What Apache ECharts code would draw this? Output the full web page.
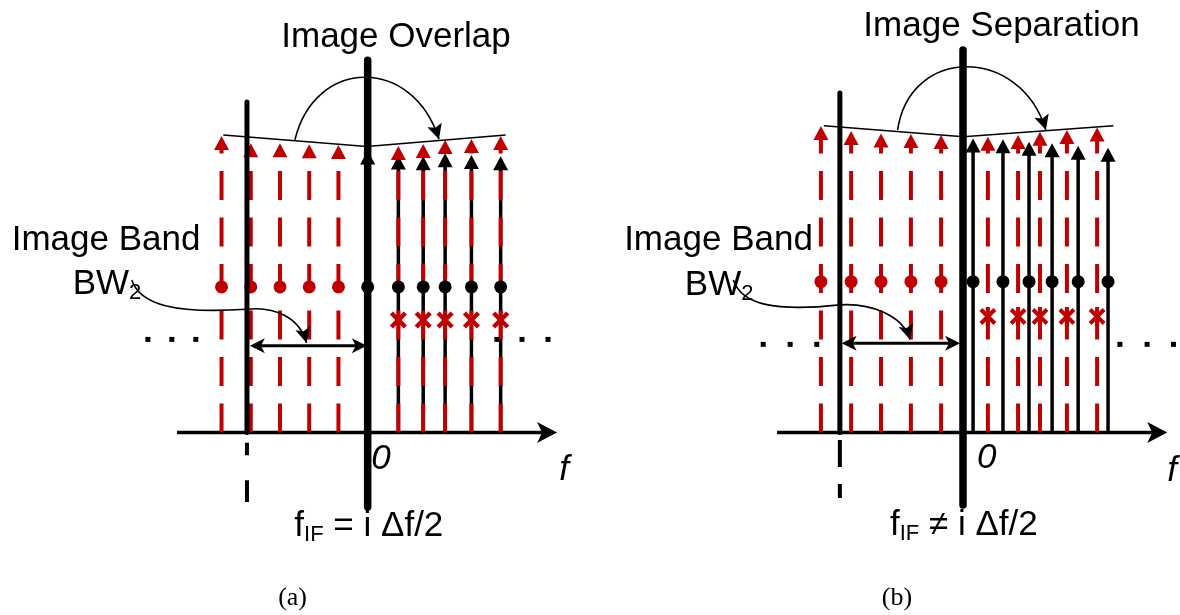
<!DOCTYPE html>
<html>
<head>
<meta charset="utf-8">
<title>Image tones for f_IF = i Δf/2 and f_IF ≠ i Δf/2</title>
<script src="https://cdn.jsdelivr.net/npm/echarts@6/dist/echarts.min.js"></script>
<style>
  html, body { margin: 0; padding: 0; background: #ffffff; }
  #chart { width: 1180px; height: 615px; }
</style>
</head>
<body>
<div id="chart"></div>
<script>
// Frequency positions are in units of the tone spacing, amplitudes in arbitrary units.

// ---------- (a) f_IF = i·Δf/2 : folded image tones fall on the signal tones ----------
const aImageX    = [-5, -4, -3, -2, -1];
const aImageTop  = [10.22, 9.97, 9.97, 9.94, 9.91];
const aSignalX   = [0, 1.05, 1.9, 2.65, 3.55, 4.55];
const aSignalTop = [9.72, 9.55, 9.53, 9.63, 9.57, 9.53];
const aFoldX     = [1.05, 1.9, 2.65, 3.55, 4.55];
const aFoldTop   = [9.88, 9.95, 10.09, 10.12, 10.22];
const aDotLevel  = 5.02;
const aMarkLevel = 3.88;
const aEdge      = [-4.13, 11.4, -0.35, -2.4];      // x, top, dashed tail from, to
const aZeroLine  = [12.84, -2.57];                   // top, bottom
const aSpan      = [-4.03, -0.03, 2.99];             // from, to, level
const aEllipsisX = [-7.52, -6.7, -5.88, 4.42, 5.28, 6.17];
const aEllipsisY = 3.21;
const aFreqAxis  = [-6.52, 6.48];
const aEnvelope  = [[-4.94, 10.26], [-0.03, 9.86], [4.72, 10.26]];
const aArc       = [[-2.49, 10.09], [-1.80, 12.95], [1.55, 12.98], [2.44, 10.11]];
const aPointer   = [[-8.07, 5.26], [-7.79, 4.40], [-6.59, 4.09], [-4.14, 4.25],
                    [-3.17, 4.36], [-2.32, 3.95], [-2.09, 3.09]];
const aTexts = [
  [0.97, 13.62, 'Image Overlap', 'title'],
  [-8.95, 6.62, 'Image Band', 'label'],
  [-8.92, 5.12, '{m|BW}{s|2}', 'rich'],
  [0.04, -3.22, '{m|f}{s|IF}{m| = i Δf/2}', 'rich'],
  [0.455, -0.93, '0', 'italic'],
  [6.72, -1.31, 'f', 'italic'],
  [-2.57, -5.71, '(a)', 'caption']
];

// ---------- (b) f_IF ≠ i·Δf/2 : folded image tones fall between the signal tones ----------
const bImageX    = [-4.80, -3.78, -2.77, -1.76, -0.74];
const bImageTop  = [10.57, 10.40, 10.31, 10.29, 10.26];
const bSignalX   = [0.34, 1.35, 2.23, 3.01, 3.89, 4.90];
const bSignalTop = [10.14, 10.11, 10.03, 9.97, 9.89, 9.82];
const bFoldX     = [0.84, 1.86, 2.60, 3.51, 4.53];
const bFoldTop   = [10.20, 10.26, 10.37, 10.43, 10.52];
const bDotLevel  = 5.2;
const bMarkLevel = 4.0;
const bEdge      = [-4.16, 11.71, -0.26, -2.26];
const bZeroLine  = [13.19, -2.5];
const bSpan      = [-4.10, -0.10, 3.08];
const bEllipsisX = [-6.75, -5.84, -4.94, 5.30, 6.22, 7.11];
const bEllipsisY = 3.04;
const bFreqAxis  = [-6.28, 6.90];
const bEnvelope  = [[-4.70, 10.58], [0.01, 10.20], [5.08, 10.58]];
const bArc       = [[-2.21, 10.43], [-1.79, 13.34], [1.93, 13.34], [2.80, 10.43]];
const bPointer   = [[-7.76, 5.26], [-7.47, 4.40], [-6.35, 4.16], [-4.16, 4.40],
                    [-3.14, 4.47], [-2.03, 4.05], [-1.79, 3.21]];
const bTexts = [
  [1.30, 14.02, 'Image Separation', 'title'],
  [-8.26, 6.62, 'Image Band', 'label'],
  [-8.24, 5.08, '{m|BW}{s|2}', 'rich'],
  [0.03, -3.19, '{m|f}{s|IF}{m| ≠ i Δf/2}', 'rich'],
  [0.80, -0.89, '0', 'italic'],
  [7.06, -1.33, 'f', 'italic'],
  [-2.23, -5.71, '(b)', 'caption']
];

// ---------- drawing helpers ----------
const RED = '#c00000';
const INK = '#000000';
const SANS = '"Liberation Sans", Arial, Helvetica, sans-serif';
const SERIF = '"Liberation Serif", "DejaVu Serif", serif';
const RED_DASH = [29, 17.5];

const TEXT_STYLES = {
  title:   { fontSize: 35, fontFamily: SANS },
  label:   { fontSize: 35, fontFamily: SANS },
  italic:  { fontSize: 35, fontFamily: SANS, fontStyle: 'italic' },
  caption: { fontSize: 26, fontFamily: SERIF },
  rich: {
    fontSize: 35, fontFamily: SANS,
    rich: {
      m: { fontSize: 35, fontFamily: SANS, lineHeight: 40, fill: INK },
      s: { fontSize: 22, fontFamily: SANS, lineHeight: 19, verticalAlign: 'bottom', fill: INK }
    }
  }
};

function unitVec(from, to) {
  const dx = to[0] - from[0], dy = to[1] - from[1];
  const d = Math.hypot(dx, dy) || 1;
  return [dx / d, dy / d];
}
function pullBack(tip, from, dist) {
  const u = unitVec(from, tip);
  return [tip[0] - u[0] * dist, tip[1] - u[1] * dist];
}
// notched arrowhead whose point sits at `tip`, pointing away from `from`
function dart(tip, from, len, half, notch, color) {
  const u = unitVec(from, tip), n = [-u[1], u[0]];
  const bx = tip[0] - u[0] * len, by = tip[1] - u[1] * len;
  return {
    type: 'polygon',
    shape: { points: [
      [tip[0], tip[1]],
      [bx + n[0] * half, by + n[1] * half],
      [tip[0] - u[0] * (len - notch), tip[1] - u[1] * (len - notch)],
      [bx - n[0] * half, by - n[1] * half]
    ] },
    style: { fill: color }
  };
}
function seg(p, q, style) {
  return { type: 'line', shape: { x1: p[0], y1: p[1], x2: q[0], y2: q[1] }, style: style };
}
function bezierChain(px, style) {
  const out = [];
  for (let k = 0; k + 3 < px.length; k += 3) {
    out.push({ type: 'bezierCurve', shape: {
      x1: px[k][0], y1: px[k][1],
      cpx1: px[k + 1][0], cpy1: px[k + 1][1],
      cpx2: px[k + 2][0], cpy2: px[k + 2][1],
      x2: px[k + 3][0], y2: px[k + 3][1]
    }, style: style });
  }
  return out;
}

// generic custom series: every item is a list of data points, painted in pixel space
function shapeSeries(grid, z, items, paint) {
  return {
    type: 'custom', xAxisIndex: grid, yAxisIndex: grid, z: z, silent: true, clip: false,
    data: items.map(pts => pts[0]),
    renderItem: (params, api) => {
      const px = items[params.dataIndex].map(p => api.coord(p));
      return { type: 'group', children: paint(px, params.dataIndex) };
    }
  };
}

// vertical tones: stem from the frequency axis up to an arrowhead
function stemSeries(grid, z, xs, tops, color, width, dash) {
  return {
    type: 'custom', xAxisIndex: grid, yAxisIndex: grid, z: z, silent: true, clip: false,
    data: xs.map((x, i) => [x, tops[i]]),
    renderItem: (params, api) => {
      const x = api.value(0);
      const top = api.coord([x, api.value(1)]);
      const base = api.coord([x, 0]);
      const hw = 7.5, hh = 14;
      return { type: 'group', children: [
        seg(base, [top[0], top[1] + hh * 0.7],
            { stroke: color, lineWidth: width, lineDash: dash || null, fill: 'none' }),
        { type: 'polygon',
          shape: { points: [[top[0], top[1]], [top[0] - hw, top[1] + hh], [top[0] + hw, top[1] + hh]] },
          style: { fill: color } }
      ] };
    }
  };
}

function markSeries(grid, z, xs, level, asterisk) {
  return {
    type: 'custom', xAxisIndex: grid, yAxisIndex: grid, z: z, silent: true, clip: false,
    data: xs.map(x => [x, level]),
    renderItem: (params, api) => {
      const c = api.coord([api.value(0), api.value(1)]);
      const r = 7;
      const st = { stroke: RED, lineWidth: asterisk ? 4 : 4.5, fill: 'none' };
      const kids = [
        seg([c[0] - r, c[1] - r], [c[0] + r, c[1] + r], st),
        seg([c[0] + r, c[1] - r], [c[0] - r, c[1] + r], st)
      ];
      if (asterisk) kids.push(seg([c[0], c[1] - 9.5], [c[0], c[1] + 9.5], st));
      return { type: 'group', children: kids };
    }
  };
}

function dotSeries(grid, z, xs, level, color, size, symbol) {
  return {
    type: 'scatter', xAxisIndex: grid, yAxisIndex: grid, z: z, silent: true,
    symbol: symbol, symbolSize: size, itemStyle: { color: color, opacity: 1 },
    data: xs.map(x => [x, level])
  };
}

function textSeries(grid, items) {
  return {
    type: 'custom', xAxisIndex: grid, yAxisIndex: grid, z: 20, silent: true, clip: false,
    data: items.map(t => [t[0], t[1]]),
    renderItem: (params, api) => {
      const t = items[params.dataIndex];
      const p = api.coord([t[0], t[1]]);
      return { type: 'text', x: p[0], y: p[1],
        style: Object.assign({ text: t[2], align: 'center', verticalAlign: 'middle', fill: INK },
                             TEXT_STYLES[t[3]]) };
    }
  };
}

function panelSeries(g, P) {
  const thin = { stroke: INK, lineWidth: 1.6, fill: 'none' };
  return [
    // frequency axis with arrow
    shapeSeries(g, 1, [[[P.axis[0], 0], [P.axis[1], 0]]], px => [
      seg(px[0], pullBack(px[1], px[0], 12), { stroke: INK, lineWidth: 3.5 }),
      dart(px[1], px[0], 20, 10.5, 5, INK)
    ]),
    stemSeries(g, 3, P.imageX, P.imageTop, RED, 4, RED_DASH),
    stemSeries(g, 4, P.signalX, P.signalTop, INK, 3.5, null),
    stemSeries(g, 5, P.foldX, P.foldTop, RED, 4, RED_DASH),
    dotSeries(g, 6, P.imageX, P.dotLevel, RED, 13, 'circle'),
    dotSeries(g, 7, P.signalX, P.dotLevel, INK, 13, 'circle'),
    dotSeries(g, 6, P.ellipsisX, P.ellipsisY, INK, 5, 'rect'),
    // lower edge of the image band: solid above the axis, dashed below it
    shapeSeries(g, 8, [[[P.edge[0], 0], [P.edge[0], P.edge[1]]]], px => [
      seg(px[0], px[1], { stroke: INK, lineWidth: 5, lineCap: 'round' })
    ]),
    shapeSeries(g, 8, [[[P.edge[0], P.edge[2]], [P.edge[0], P.edge[3]]]], px => [
      seg(px[0], px[1], { stroke: INK, lineWidth: 4, lineDash: P.edgeDash })
    ]),
    // LO at zero frequency
    shapeSeries(g, 9, [[[0, P.zero[1]], [0, P.zero[0]]]], px => [
      seg(px[0], px[1], { stroke: INK, lineWidth: 7.5, lineCap: 'round' })
    ]),
    markSeries(g, 10, P.foldX, P.markLevel, P.asterisk),
    // band width double arrow
    shapeSeries(g, 11, [[[P.span[0], P.span[2]], [P.span[1], P.span[2]]]], px => [
      seg(pullBack(px[0], px[1], 8), pullBack(px[1], px[0], 8), { stroke: INK, lineWidth: 3 }),
      dart(px[0], px[1], 15, 7.5, 4, INK),
      dart(px[1], px[0], 15, 7.5, 4, INK)
    ]),
    // spectral envelope
    shapeSeries(g, 11, [P.envelope], px => [
      { type: 'polyline', shape: { points: px }, style: { stroke: INK, lineWidth: 1.5, fill: 'none' } }
    ]),
    // mirroring arc
    shapeSeries(g, 11, [P.arc], px => bezierChain(px, thin).concat([
      dart(px[3], px[2], 15, 7.5, 3, INK)
    ])),
    // label pointer
    shapeSeries(g, 11, [P.pointer], px => bezierChain(px, thin).concat([
      dart(px[6], px[5], 15, 7.5, 3, INK)
    ])),
    textSeries(g, P.texts)
  ];
}

const panelA = {
  imageX: aImageX, imageTop: aImageTop, signalX: aSignalX, signalTop: aSignalTop,
  foldX: aFoldX, foldTop: aFoldTop, dotLevel: aDotLevel, markLevel: aMarkLevel,
  edge: aEdge, edgeDash: [12.5, 25, 22, 40], zero: aZeroLine, span: aSpan,
  ellipsisX: aEllipsisX, ellipsisY: aEllipsisY, axis: aFreqAxis, envelope: aEnvelope,
  arc: aArc, pointer: aPointer, texts: aTexts, asterisk: false
};
const panelB = {
  imageX: bImageX, imageTop: bImageTop, signalX: bSignalX, signalTop: bSignalTop,
  foldX: bFoldX, foldTop: bFoldTop, dotLevel: bDotLevel, markLevel: bMarkLevel,
  edge: bEdge, edgeDash: [27, 17, 15, 40], zero: bZeroLine, span: bSpan,
  ellipsisX: bEllipsisX, ellipsisY: bEllipsisY, axis: bFreqAxis, envelope: bEnvelope,
  arc: bArc, pointer: bPointer, texts: bTexts, asterisk: true
};

const chart = echarts.init(document.getElementById('chart'), null,
  { renderer: 'canvas', width: 1180, height: 615 });

chart.setOption({
  animation: false,
  backgroundColor: '#ffffff',
  grid: [
    { left: 90, top: 12, width: 511.5, height: 594.5 },
    { left: 711.4, top: 12, width: 467.7, height: 594.5 }
  ],
  xAxis: [
    { type: 'value', gridIndex: 0, min: -9.5, max: 8, show: false },
    { type: 'value', gridIndex: 1, min: -8.5, max: 7.3, show: false }
  ],
  yAxis: [
    { type: 'value', gridIndex: 0, min: -6, max: 14.5, show: false },
    { type: 'value', gridIndex: 1, min: -6, max: 14.5, show: false }
  ],
  series: panelSeries(0, panelA).concat(panelSeries(1, panelB))
});
</script>
</body>
</html>
